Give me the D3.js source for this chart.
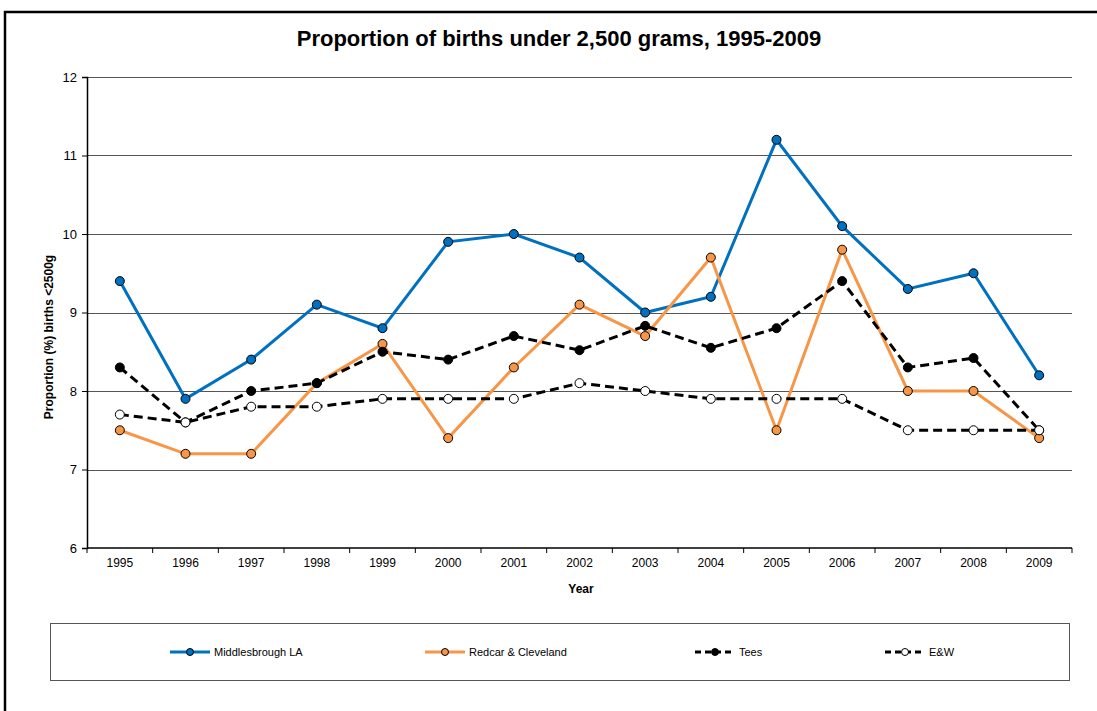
<!DOCTYPE html>
<html>
<head>
<meta charset="utf-8">
<script src="https://cdn.jsdelivr.net/npm/d3@7"></script>
<style>
  body { margin: 0; background: #fff; }
  text { font-family: "Liberation Sans", Arial, sans-serif; fill: #000; }
</style>
</head>
<body>
<div id="chart"></div>
<script>
// Chart data
var years = ["1995","1996","1997","1998","1999","2000","2001","2002","2003","2004","2005","2006","2007","2008","2009"];
var middlesbrough = [9.4, 7.9, 8.4, 9.1, 8.8, 9.9, 10.0, 9.7, 9.0, 9.2, 11.2, 10.1, 9.3, 9.5, 8.2];
var redcar = [7.5, 7.2, 7.2, 8.1, 8.6, 7.4, 8.3, 9.1, 8.7, 9.7, 7.5, 9.8, 8.0, 8.0, 7.4];
var tees = [8.3, 7.6, 8.0, 8.1, 8.5, 8.4, 8.7, 8.52, 8.83, 8.55, 8.8, 9.4, 8.3, 8.42, 7.5];
var eandw = [7.7, 7.6, 7.8, 7.8, 7.9, 7.9, 7.9, 8.1, 8.0, 7.9, 7.9, 7.9, 7.5, 7.5, 7.5];
var yTicks = [6, 7, 8, 9, 10, 11, 12];

var seriesList = [
  { name: "Middlesbrough LA", values: middlesbrough, color: "#0070C0", fill: "#0070C0", dash: null },
  { name: "Redcar & Cleveland", values: redcar, color: "#F79646", fill: "#F79646", dash: null },
  { name: "Tees", values: tees, color: "#000", fill: "#000", dash: "9,5" },
  { name: "E&W", values: eandw, color: "#000", fill: "#fff", dash: "9,5" }
];

var svgWidth = 1097;
var svgHeight = 711;

var margin = { top: 77, right: 25, bottom: 163, left: 87 };
var chartWidth = 1072 - margin.left;
var chartHeight = 548 - margin.top;

var svg = d3.select("#chart")
  .append("svg")
  .attr("width", svgWidth)
  .attr("height", svgHeight);

// outer frame
svg.append("rect")
  .attr("x", 5)
  .attr("y", 12)
  .attr("width", 1100)
  .attr("height", 720)
  .attr("fill", "none")
  .attr("stroke", "#000")
  .attr("stroke-width", 2.5);

// title
svg.append("text")
  .attr("x", 559)
  .attr("y", 46)
  .attr("text-anchor", "middle")
  .style("font-size", "22px")
  .style("font-weight", "bold")
  .text("Proportion of births under 2,500 grams, 1995-2009");

var chartGroup = svg.append("g")
  .attr("transform", `translate(${margin.left}, ${margin.top})`);

var xBand = d3.scaleBand()
  .domain(years)
  .range([0, chartWidth]);

var yScale = d3.scaleLinear()
  .domain([6, 12])
  .range([chartHeight, 0]);

var xPos = d => xBand(d) + xBand.bandwidth() / 2;

// gridlines
chartGroup.selectAll(".grid")
  .data(yTicks.filter(t => t > 6))
  .enter()
  .append("line")
  .attr("x1", 0)
  .attr("x2", chartWidth)
  .attr("y1", d => Math.round(yScale(d)) + 0.5)
  .attr("y2", d => Math.round(yScale(d)) + 0.5)
  .attr("stroke", "#555")
  .attr("stroke-width", 1);

// y axis
var leftAxis = d3.axisLeft(yScale)
  .tickValues(yTicks)
  .tickFormat(d3.format("d"))
  .tickSize(5)
  .tickPadding(5);
var yAxis = chartGroup.append("g").call(leftAxis);
yAxis.attr("font-size", 13).attr("font-family", "Liberation Sans, Arial, sans-serif");
yAxis.select(".domain").attr("stroke", "#000").attr("stroke-width", 1.5);

// x axis: ticks between categories
var xAxis = chartGroup.append("g")
  .attr("transform", `translate(0, ${chartHeight})`);
xAxis.append("line")
  .attr("x1", 0).attr("x2", chartWidth)
  .attr("y1", 0).attr("y2", 0)
  .attr("stroke", "#000").attr("stroke-width", 1.5);
var bounds = years.map(d => xBand(d)).concat([chartWidth]);
xAxis.selectAll(".tk")
  .data(bounds)
  .enter()
  .append("line")
  .attr("x1", d => d).attr("x2", d => d)
  .attr("y1", 0).attr("y2", 5)
  .attr("stroke", "#000");
xAxis.selectAll(".lbl")
  .data(years)
  .enter()
  .append("text")
  .attr("x", xPos)
  .attr("y", 19)
  .attr("text-anchor", "middle")
  .style("font-size", "12px")
  .text(d => d);

// axis titles
svg.append("text")
  .attr("x", 581)
  .attr("y", 593)
  .attr("text-anchor", "middle")
  .style("font-size", "12px")
  .style("font-weight", "bold")
  .text("Year");

svg.append("text")
  .attr("transform", "translate(53, 337) rotate(-90)")
  .attr("text-anchor", "middle")
  .style("font-size", "12px")
  .style("font-weight", "bold")
  .text("Proportion (%) births <2500g");

// series lines and markers
var line = d3.line()
  .x((d, i) => xPos(years[i]))
  .y(d => yScale(d));

seriesList.forEach(s => {
  var g = chartGroup.append("g");
  g.append("path")
    .datum(s.values)
    .attr("d", line)
    .attr("fill", "none")
    .attr("stroke", s.color)
    .attr("stroke-width", 3)
    .attr("stroke-dasharray", s.dash);
  g.selectAll("circle")
    .data(s.values)
    .enter()
    .append("circle")
    .attr("cx", (d, i) => xPos(years[i]))
    .attr("cy", d => yScale(d))
    .attr("r", 4.5)
    .attr("fill", s.fill)
    .attr("stroke", "#000")
    .attr("stroke-width", 1);
});

// legend
var legend = svg.append("g");
legend.append("rect")
  .attr("x", 50.5)
  .attr("y", 623.5)
  .attr("width", 1019)
  .attr("height", 57)
  .attr("fill", "#fff")
  .attr("stroke", "#555")
  .attr("stroke-width", 1);

var legendX = [170, 425, 695, 885];
seriesList.forEach((s, i) => {
  var lx = legendX[i];
  var item = legend.append("g").attr("transform", `translate(${lx}, 652)`);
  item.append("line")
    .attr("x1", 0).attr("x2", 40)
    .attr("y1", 0).attr("y2", 0)
    .attr("stroke", s.color)
    .attr("stroke-width", 3)
    .attr("stroke-dasharray", s.dash ? "6,4" : null);
  item.append("circle")
    .attr("cx", 20).attr("cy", 0)
    .attr("r", 3.5)
    .attr("fill", s.fill)
    .attr("stroke", "#000")
    .attr("stroke-width", 1);
  item.append("text")
    .attr("x", 44)
    .attr("y", 4)
    .style("font-size", "11px")
    .text(s.name);
});
</script>
</body>
</html>
